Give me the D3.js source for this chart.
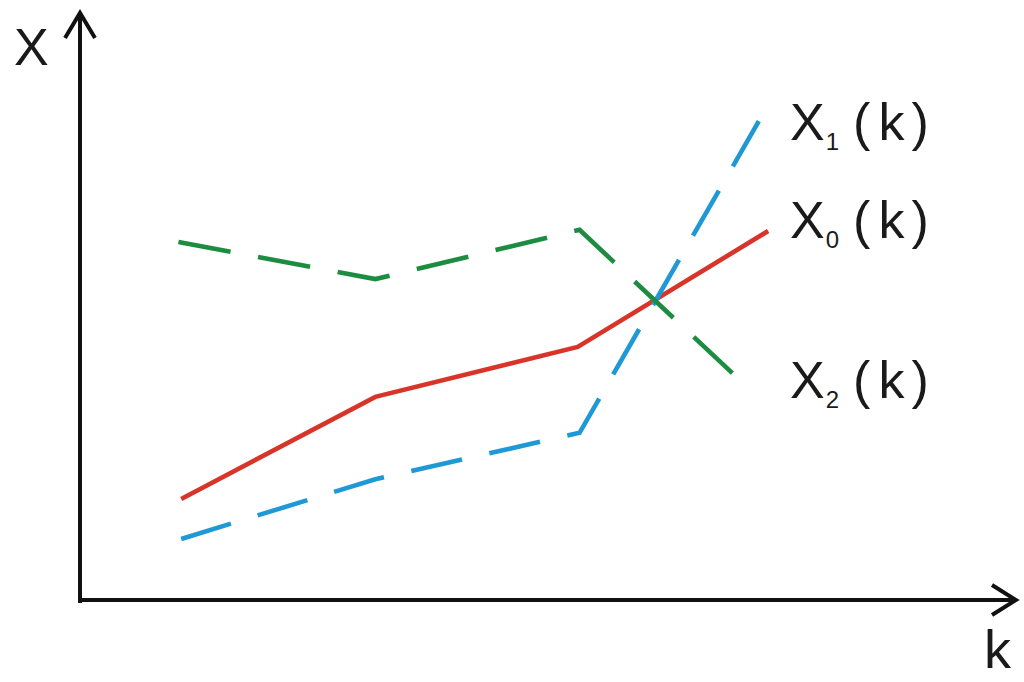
<!DOCTYPE html>
<html lang="en">
<head>
  <meta charset="UTF-8">
  <title>X(k) sequences</title>
  <style>
    body { margin: 0; background: #fff; }
    svg { display: block; }
    text { font-family: "Liberation Sans", Arial, sans-serif; fill: #1a1a1a; }
  </style>
  <script src="https://d3js.org/d3.v7.min.js"></script>
</head>
<body>
  <svg width="1024" height="682"></svg>
  <script>
    // schematic data (k positions are not evenly spaced)
    const k0 = [11.0, 32.1, 54.1, 74.8];
    const x0 = [17.6, 35.2, 43.8, 63.8];
    const k1 = [11.0, 32.1, 54.3, 74.5];
    const x1 = [10.7, 21.0, 29.0, 84.7];
    const k2 = [10.7, 32.1, 54.3, 71.7];
    const x2 = [61.9, 55.5, 64.0, 38.1];

    const series = [
      { name: "0", k: k0, v: x0, color: "#d8352a", dash: null },
      { name: "1", k: k1, v: x1, color: "#1f98d6", dash: "52,28" },
      { name: "2", k: k2, v: x2, color: "#1c8c40", dash: "53,28" }
    ];
    const labelY = { "1": 140, "0": 238, "2": 398 };

    const svg = d3.select("svg");
    const x = d3.scaleLinear().domain([0, 100]).range([80, 1000]);
    const y = d3.scaleLinear().domain([0, 100]).range([601, 21]);

    const line = d3.line().x(d => x(d[0])).y(d => y(d[1]));

    series.forEach(s => {
      svg.append("path")
        .attr("d", line(d3.zip(s.k, s.v)))
        .attr("fill", "none")
        .attr("stroke", s.color)
        .attr("stroke-width", 4.6)
        .attr("stroke-dasharray", s.dash);
    });

    // axes with open arrow heads
    const ax = svg.append("g").attr("fill", "none").attr("stroke", "#111")
      .attr("stroke-width", 4);
    const x0px = x(0), y0px = y(0);
    ax.append("path").attr("d", `M${x0px},${y0px + 2}V13`);
    ax.append("path").attr("d", `M${x0px - 15},38L${x0px},13L${x0px + 15},38`);
    ax.append("path").attr("d", `M${x0px - 2},${y0px - 1}H1016`);
    ax.append("path").attr("d", `M992,${y0px - 16}L1016,${y0px - 1}L992,${y0px + 14}`);

    svg.append("text").attr("x", 14).attr("y", 65).attr("font-size", 52).text("X");
    svg.append("text").attr("x", 984).attr("y", 668).attr("font-size", 54).text("k");

    series.forEach(s => {
      const t = svg.append("text").attr("x", 790).attr("y", labelY[s.name])
        .attr("font-size", 52);
      t.append("tspan").text("X");
      t.append("tspan").attr("font-size", 24).attr("dy", 10).attr("dx", 1).text(s.name);
      t.append("tspan").attr("dy", -10).attr("dx", 14).text("(");
      t.append("tspan").attr("dx", 8).text("k");
      t.append("tspan").attr("dx", 7).text(")");
    });
  </script>
</body>
</html>
